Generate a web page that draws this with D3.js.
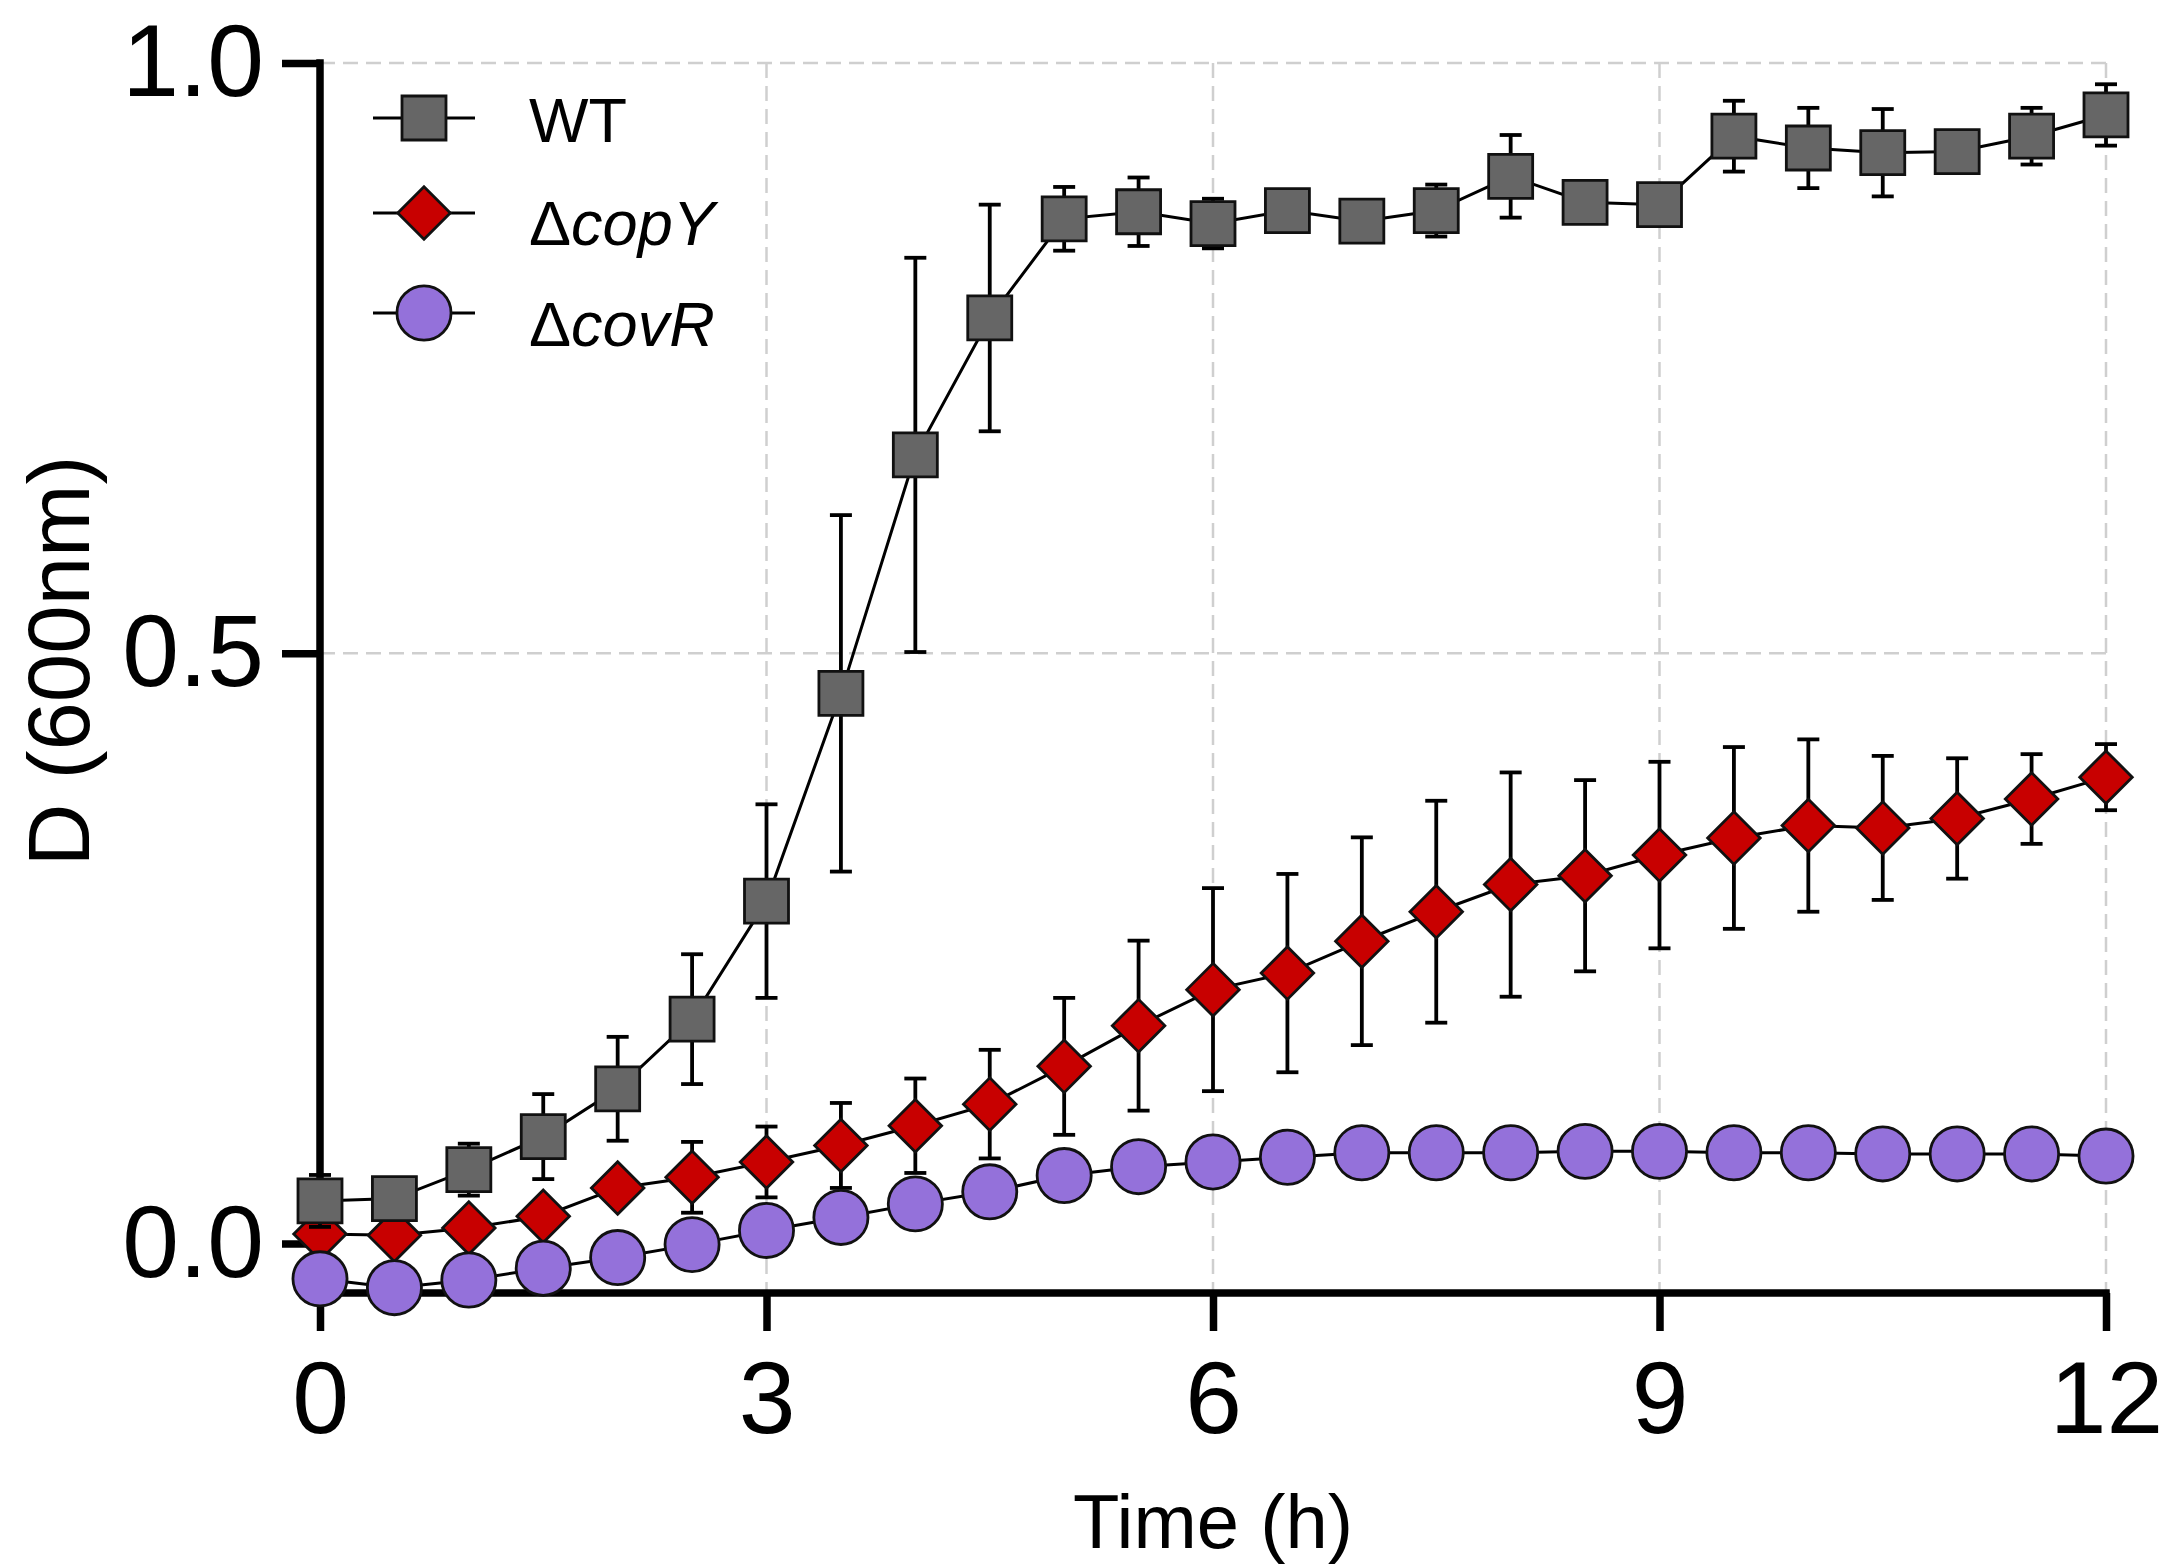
<!DOCTYPE html>
<html>
<head>
<meta charset="utf-8">
<script src="https://cdn.jsdelivr.net/npm/d3@7"></script>
<style>
  html, body { margin: 0; padding: 0; background: #fff; }
  svg { display: block; }
  text { font-family: "Liberation Sans", Arial, Helvetica, sans-serif; fill: #000; }
</style>
</head>
<body>
<svg id="chart" width="2166" height="1567"></svg>
<script>
// Sampling times (h)
const times = [0, 0.5, 1, 1.5, 2, 2.5, 3, 3.5, 4, 4.5, 5, 5.5, 6, 6.5, 7, 7.5, 8, 8.5, 9, 9.5, 10, 10.5, 11, 11.5, 12];

// Mean optical density per strain
const wtMean = [0.036, 0.038, 0.0625, 0.0905, 0.131, 0.190, 0.290, 0.466, 0.668, 0.784, 0.868, 0.874, 0.864, 0.875, 0.866, 0.875, 0.904, 0.882, 0.880, 0.938, 0.928, 0.924, 0.925, 0.938, 0.956];
const copYMean = [0.008, 0.007, 0.013, 0.023, 0.047, 0.056, 0.069, 0.083, 0.0997, 0.118, 0.150, 0.1845, 0.215, 0.229, 0.256, 0.281, 0.304, 0.3115, 0.329, 0.3435, 0.354, 0.352, 0.360, 0.3765, 0.395];
const covRMean = [-0.030, -0.0375, -0.031, -0.021, -0.012, -0.001, 0.011, 0.022, 0.0335, 0.0437, 0.0575, 0.065, 0.069, 0.073, 0.0768, 0.0768, 0.0768, 0.078, 0.078, 0.0768, 0.0768, 0.0758, 0.0758, 0.0758, 0.074];

// Standard deviations
const wtErr = [0.022, 0.01, 0.022, 0.036, 0.044, 0.055, 0.082, 0.151, 0.167, 0.096, 0.027, 0.029, 0.021, 0.01, 0.01, 0.022, 0.035, 0.01, 0.01, 0.030, 0.034, 0.037, 0.01, 0.024, 0.026];
const copYErr = [0.01, 0.005, 0.008, 0.008, 0.01, 0.03, 0.03, 0.036, 0.04, 0.046, 0.058, 0.072, 0.086, 0.084, 0.088, 0.094, 0.095, 0.081, 0.079, 0.077, 0.073, 0.061, 0.051, 0.038, 0.028];
const covRErr = [0.005, 0.005, 0.005, 0.005, 0.005, 0.005, 0.005, 0.005, 0.005, 0.005, 0.005, 0.005, 0.005, 0.005, 0.005, 0.005, 0.005, 0.005, 0.005, 0.005, 0.005, 0.005, 0.005, 0.005, 0.005];

// Axis ticks
const xTicks = [0, 3, 6, 9, 12];
const yTicks = [0, 0.5, 1.0];
const yGrid = [0.5, 1.0];
const xGrid = [3, 6, 9, 12];

const svg = d3.select("#chart");

const x = d3.scaleLinear().domain([0, 12]).range([320, 2106]);
const y = d3.scaleLinear().domain([-0.042, 1.0]).range([1293, 63]);

// Diamond: a square turned 45 degrees, size = area
const diamondType = {
  draw(context, size) {
    const h = Math.sqrt(size / 2);
    context.moveTo(0, -h);
    context.lineTo(h, 0);
    context.lineTo(0, h);
    context.lineTo(-h, 0);
    context.closePath();
  }
};

const series = [
  { name: "copY", mean: copYMean, err: copYErr, fill: "#c80000", symbol: diamondType, size: 1380 },
  { name: "WT", mean: wtMean, err: wtErr, fill: "#666666", symbol: d3.symbolSquare, size: 1936 },
  { name: "covR", mean: covRMean, err: covRErr, fill: "#9471da", symbol: d3.symbolCircle, size: 2300 }
];

// Grid
const grid = svg.append("g").attr("stroke", "#cfcfcf").attr("stroke-width", 2.5)
  .attr("stroke-dasharray", "15,8").attr("fill", "none");
grid.selectAll("line.gx").data(xGrid).join("line")
  .attr("x1", d => x(d)).attr("x2", d => x(d))
  .attr("y1", y(1.0)).attr("y2", y.range()[0]);
grid.selectAll("line.gy").data(yGrid).join("line")
  .attr("x1", x(0)).attr("x2", x(12))
  .attr("y1", d => y(d)).attr("y2", d => y(d));

// Axes
const fmt = d3.format(".1f");
const yAxis = svg.append("g").attr("transform", `translate(${x(0)},0)`)
  .call(d3.axisLeft(y).tickValues(yTicks).tickFormat(fmt).tickSize(38).tickSizeOuter(0).tickPadding(18));
const xAxis = svg.append("g").attr("transform", `translate(0,${y.range()[0]})`)
  .call(d3.axisBottom(x).tickValues(xTicks).tickFormat(d3.format("d")).tickSize(38).tickSizeOuter(0).tickPadding(30));

[yAxis, xAxis].forEach(a => {
  a.select(".domain").attr("stroke", "#000").attr("stroke-width", 7.5).attr("stroke-linecap", "square");
  a.selectAll(".tick line").attr("stroke", "#000").attr("stroke-width", 7.5);
  a.selectAll(".tick text").attr("font-size", 102).attr("fill", "#000")
    .attr("font-family", "'Liberation Sans', Arial, sans-serif");
});
yAxis.select(".domain").attr("d", `M0,${y.range()[0]}V${y(1.0)}`);
xAxis.select(".domain").attr("d", `M${x(0)},0H${x(12)}`);

// Axis titles
svg.append("text")
  .attr("transform", "translate(89,661) rotate(-90)")
  .attr("text-anchor", "middle").attr("font-size", 87)
  .text("D (600nm)");
svg.append("text")
  .attr("x", (x(0) + x(12)) / 2).attr("y", 1548)
  .attr("text-anchor", "middle").attr("font-size", 76)
  .text("Time (h)");

// Series: connecting lines, error bars, markers
const line = d3.line().x((d, i) => x(times[i])).y(d => y(d));
series.forEach(s => {
  const g = svg.append("g");
  g.append("path").datum(s.mean).attr("d", line)
    .attr("fill", "none").attr("stroke", "#000").attr("stroke-width", 3);

  const pts = s.mean.map((m, i) => ({ t: times[i], m, e: s.err[i] }));
  const eb = g.append("g").attr("stroke", "#000").attr("stroke-width", 3.8);
  eb.selectAll("line.v").data(pts).join("line")
    .attr("x1", d => x(d.t)).attr("x2", d => x(d.t))
    .attr("y1", d => y(d.m + d.e)).attr("y2", d => y(d.m - d.e));
  eb.selectAll("line.t").data(pts).join("line")
    .attr("x1", d => x(d.t) - 11).attr("x2", d => x(d.t) + 11)
    .attr("y1", d => y(d.m + d.e)).attr("y2", d => y(d.m + d.e));
  eb.selectAll("line.b").data(pts).join("line")
    .attr("x1", d => x(d.t) - 11).attr("x2", d => x(d.t) + 11)
    .attr("y1", d => y(d.m - d.e)).attr("y2", d => y(d.m - d.e));

  g.selectAll("path.mk").data(pts).join("path")
    .attr("transform", d => `translate(${x(d.t)},${y(d.m)})`)
    .attr("d", d3.symbol().type(s.symbol).size(s.size))
    .attr("fill", s.fill).attr("stroke", "#111").attr("stroke-width", 2.8);
});

// Legend
const legendRows = [
  { label: "WT", italic: null, fill: "#666666", symbol: d3.symbolSquare, size: 1936, cy: 118, base: 142 },
  { label: "Δ", italic: "copY", fill: "#c80000", symbol: diamondType, size: 1380, cy: 213, base: 245 },
  { label: "Δ", italic: "covR", fill: "#9471da", symbol: d3.symbolCircle, size: 2300, cy: 313, base: 346 }
];
const lg = svg.append("g");
legendRows.forEach(r => {
  lg.append("line").attr("x1", 373).attr("x2", 475).attr("y1", r.cy).attr("y2", r.cy)
    .attr("stroke", "#000").attr("stroke-width", 3);
  lg.append("path").attr("transform", `translate(424,${r.cy})`)
    .attr("d", d3.symbol().type(r.symbol).size(r.size))
    .attr("fill", r.fill).attr("stroke", "#111").attr("stroke-width", 2.8);
  const t = lg.append("text").attr("x", 529).attr("y", r.base).attr("font-size", 63);
  t.append("tspan").text(r.label);
  if (r.italic) t.append("tspan").attr("font-style", "italic").text(r.italic);
});
</script>
</body>
</html>
